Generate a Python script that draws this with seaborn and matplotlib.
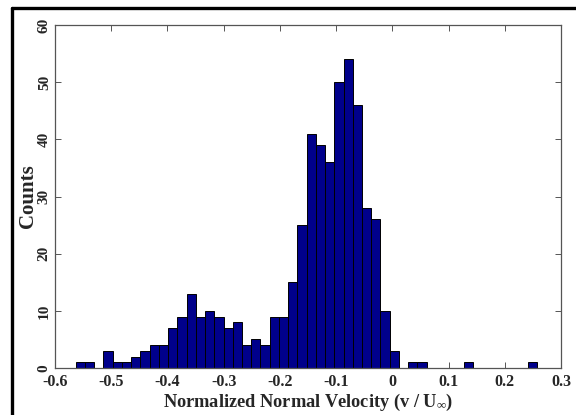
import numpy as np
import pandas as pd
import matplotlib
matplotlib.use("Agg")
import matplotlib.pyplot as plt
import seaborn as sns

# Histogram data (50 equal bins between data min and max)
bin_min = -0.563
bin_max = 0.258
counts = [1, 1, 0, 3, 1, 1, 2, 3, 4, 4,
          7, 9, 13, 9, 10, 9, 7, 8, 4, 5,
          4, 9, 9, 15, 25, 41, 39, 36, 50, 54,
          46, 28, 26, 10, 3, 0, 1, 1, 0, 0,
          0, 0, 1, 0, 0, 0, 0, 0, 0, 1]
x_ticks = [-0.6, -0.5, -0.4, -0.3, -0.2, -0.1, 0, 0.1, 0.2, 0.3]
x_ticklabels = ["-0.6", "-0.5", "-0.4", "-0.3", "-0.2", "-0.1", "0", "0.1", "0.2", "0.3"]
y_ticks = [0, 10, 20, 30, 40, 50, 60]
xlabel = "Normalized Normal Velocity (v / U$_{\\infty}$)"
ylabel = "Counts"

sns.set_theme(style="white")
plt.rcParams["font.family"] = ["Liberation Serif", "DejaVu Serif"]
plt.rcParams["font.weight"] = "bold"
plt.rcParams["mathtext.fontset"] = "custom"
plt.rcParams["mathtext.rm"] = "Liberation Serif:bold"
plt.rcParams["mathtext.it"] = "Liberation Serif:bold"
plt.rcParams["mathtext.bf"] = "Liberation Serif:bold"

edges = np.linspace(bin_min, bin_max, len(counts) + 1)
centers = (edges[:-1] + edges[1:]) / 2
df = pd.DataFrame({"v": centers, "n": np.asarray(counts, dtype=float)})

fig = plt.figure(figsize=(5.76, 4.15), dpi=100)
ax = fig.add_axes([55 / 576, 1 - 368 / 415, (561 - 55) / 576, (368 - 25) / 415])

sns.histplot(data=df, x="v", weights="n", bins=edges.tolist(), ax=ax,
             color="#00008B", edgecolor="black", linewidth=0.7, alpha=1.0)

ax.set_xlim(-0.6, 0.3)
ax.set_ylim(0, 60)
ax.set_xticks(x_ticks)
ax.set_xticklabels(x_ticklabels, fontsize=11.5, fontweight="bold")
ax.set_yticks(y_ticks)
ax.set_yticklabels([str(v) for v in y_ticks], fontsize=11, fontweight="bold",
                   rotation=90, va="center")
ax.tick_params(direction="in", length=4, width=0.7, color="#555555",
               top=True, right=True, bottom=True, left=True, pad=4)
ax.tick_params(axis="y", pad=3)
for s in ax.spines.values():
    s.set_color("#555555")
    s.set_linewidth(0.9)
    s.set_visible(True)

ax.set_xlabel(xlabel, fontsize=13.2, fontweight="bold", labelpad=2)
ax.set_ylabel(ylabel, fontsize=15, fontweight="bold")
ax.yaxis.set_label_coords(-0.034, 0.5)

# partial frame lines around figure (left and top)
fig.add_artist(plt.Line2D([12 / 576, 1], [1 - 8.5 / 415, 1 - 8.5 / 415],
                          transform=fig.transFigure, color="black", linewidth=2.4))
fig.add_artist(plt.Line2D([12 / 576, 12 / 576], [0, 1 - 8.5 / 415],
                          transform=fig.transFigure, color="black", linewidth=2.4))

fig.savefig("out.png", dpi=100, facecolor="white")
